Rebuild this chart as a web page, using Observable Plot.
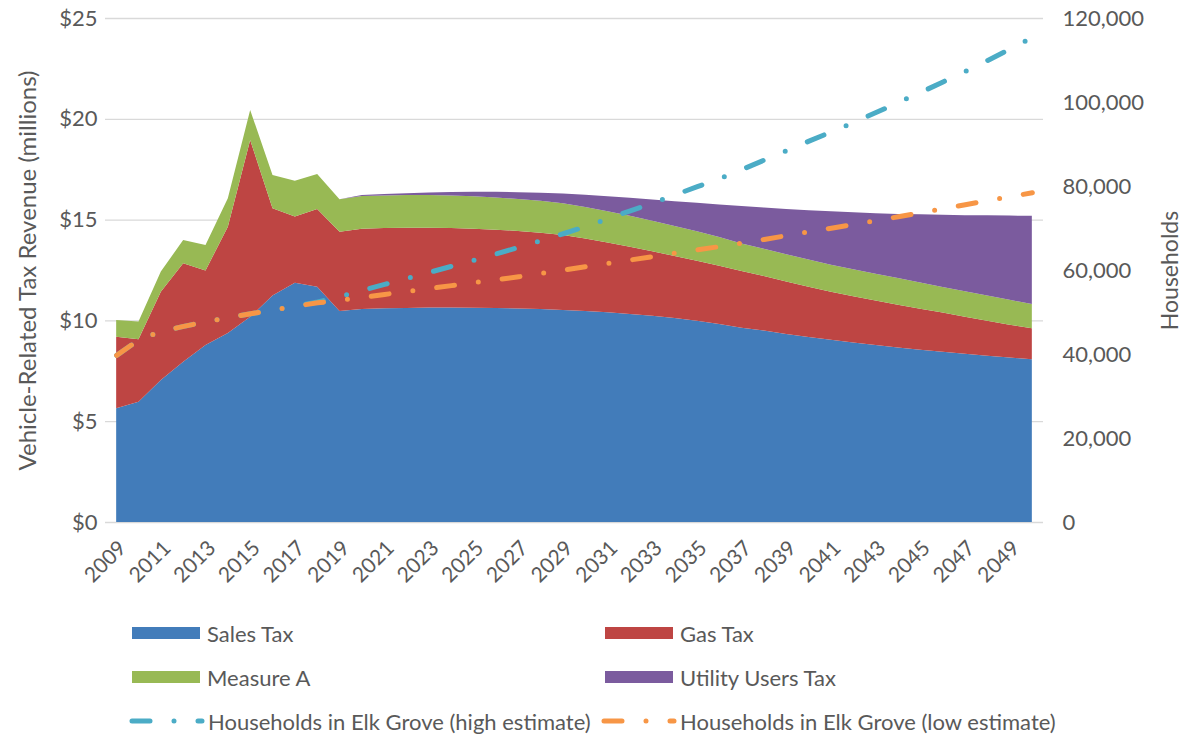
<!DOCTYPE html>
<html>
<head>
<meta charset="utf-8">
<script src="https://cdn.jsdelivr.net/npm/d3@7"></script>
<script src="https://cdn.jsdelivr.net/npm/@observablehq/plot@0.6"></script>
<style>
  html, body { margin: 0; padding: 0; background: #fff; }
  #wrap { position: relative; width: 1184px; height: 737px; font-family: Lato, "Open Sans", sans-serif; color: #595959; }
  #chart { position: absolute; left: 0; top: 0; }
  .leg { position: absolute; display: flex; align-items: center; font-size: 22px; color: #595959; white-space: nowrap; }
  .sw { width: 68px; height: 12px; margin-right: 7px; }
</style>
</head>
<body>
<div id="wrap">
  <div id="chart"></div>
  <div id="legend"></div>
</div>
<script>
// ---- Data ----
const years = [2009,2010,2011,2012,2013,2014,2015,2016,2017,2018,2019,2020,2021,2022,2023,2024,2025,2026,2027,2028,2029,2030,2031,2032,2033,2034,2035,2036,2037,2038,2039,2040,2041,2042,2043,2044,2045,2046,2047,2048,2049,2050];

const seriesNames = ["Sales Tax", "Gas Tax", "Measure A", "Utility Users Tax"];
const seriesColors = ["#427CBA", "#BE4543", "#98B954", "#7B5B9E"];

// $ millions
const salesTax = [5.64,5.97,7.04,7.95,8.78,9.37,10.18,11.23,11.87,11.67,10.47,10.57,10.60,10.62,10.64,10.64,10.63,10.62,10.59,10.56,10.52,10.47,10.40,10.32,10.23,10.12,9.98,9.82,9.64,9.50,9.32,9.18,9.04,8.90,8.78,8.66,8.55,8.45,8.35,8.25,8.16,8.07];
const gasTax = [3.55,3.09,4.38,4.88,3.69,5.28,8.77,4.33,3.28,3.86,3.93,3.98,3.98,3.98,3.96,3.94,3.91,3.88,3.85,3.79,3.72,3.59,3.46,3.33,3.20,3.08,2.98,2.89,2.81,2.70,2.61,2.49,2.38,2.30,2.21,2.12,2.03,1.94,1.83,1.73,1.63,1.54];
const measureA = [0.83,0.88,1.00,1.16,1.27,1.41,1.49,1.65,1.78,1.73,1.61,1.62,1.62,1.62,1.62,1.62,1.62,1.60,1.58,1.58,1.57,1.57,1.56,1.54,1.51,1.48,1.46,1.43,1.37,1.35,1.35,1.35,1.34,1.34,1.33,1.32,1.30,1.27,1.26,1.25,1.23,1.20];
const utilityUsersTax = [0,0,0,0,0,0,0,0,0,0,0,0.05,0.07,0.09,0.13,0.17,0.22,0.28,0.34,0.40,0.48,0.60,0.74,0.89,1.06,1.23,1.41,1.61,1.85,2.05,2.25,2.45,2.65,2.82,3.00,3.18,3.38,3.58,3.78,3.98,4.18,4.38];

// households
const householdsHigh = [39800,43500,45500,46700,47800,48800,49700,50600,51500,52500,53800,55250,56700,58100,59550,61000,62450,63950,65500,67100,68750,70450,72350,74200,76050,78000,79950,81900,84050,86300,88550,90800,93000,95250,97600,100000,102400,104900,107400,110000,112700,115500];
const householdsLow = [39800,43500,45500,46700,47800,48800,49700,50600,51500,52300,52900,53600,54300,55000,55700,56400,57100,57800,58500,59280,60080,60890,61700,62500,63300,64120,64900,65700,66500,67400,68300,69200,70080,70960,71840,72800,73750,74700,75660,76620,77560,78500];

const revenueTicks = [0, 5, 10, 15, 20, 25];
const householdTicks = [0, 20000, 40000, 60000, 80000, 100000, 120000];
const yearTicks = [2009,2011,2013,2015,2017,2019,2021,2023,2025,2027,2029,2031,2033,2035,2037,2039,2041,2043,2045,2047,2049];

const lineNames = ["Households in Elk Grove (high estimate)", "Households in Elk Grove (low estimate)"];
const lineColors = ["#4BACC6", "#F79646"];

// ---- Build tables ----
const seriesValues = [salesTax, gasTax, measureA, utilityUsersTax];
const rows = [];
seriesNames.forEach((name, si) => {
  years.forEach((yr, i) => rows.push({year: yr, series: name, value: seriesValues[si][i]}));
});
const hhMax = 120000, revMax = 25;
const toY = h => h * revMax / hhMax;
const high = years.map((yr, i) => ({year: yr, h: householdsHigh[i]}));
const low = years.map((yr, i) => ({year: yr, h: householdsLow[i]}));

const dash = "18,24,0,24";
const fmt = d3.format(",");

const chart = Plot.plot({
  width: 1184,
  height: 600,
  marginTop: 18,
  marginBottom: 78,
  marginLeft: 105,
  marginRight: 141,
  style: {fontFamily: "Lato, 'Open Sans', sans-serif", fontSize: "21px", color: "#595959", background: "white"},
  x: {domain: [2008.5, 2050.5]},
  y: {domain: [0, revMax]},
  color: {domain: seriesNames, range: seriesColors},
  marks: [
    Plot.gridY(revenueTicks, {stroke: "#D9D9D9", strokeOpacity: 1, strokeWidth: 1.3}),
    Plot.areaY(rows, {x: "year", y: "value", z: "series", fill: "series", order: seriesNames}),
    Plot.line(high, {x: "year", y: d => toY(d.h), stroke: lineColors[0], strokeWidth: 5, strokeDasharray: dash, strokeLinecap: "round", strokeLinejoin: "round"}),
    Plot.line(low, {x: "year", y: d => toY(d.h), stroke: lineColors[1], strokeWidth: 5, strokeDasharray: dash, strokeLinecap: "round", strokeLinejoin: "round"}),
    Plot.axisY(revenueTicks, {tickSize: 0, tickPadding: 8, tickFormat: d => "$" + d, label: null, fontSize: 22, fill: "#595959"}),
    Plot.axisY(householdTicks.map(toY), {anchor: "right", tickSize: 0, tickPadding: 19, textAnchor: "start", tickFormat: d => fmt(Math.round(d * hhMax / revMax)), label: null, fontSize: 22, fill: "#595959"}),
    Plot.axisX(yearTicks, {tickRotate: -45, tickSize: 0, tickPadding: 22, dx: 6, tickFormat: d => String(d), label: null, fontSize: 21, fill: "#595959"}),
    Plot.text(["Vehicle-Related Tax Revenue (millions)"], {frameAnchor: "left", textAnchor: "middle", lineAnchor: "middle", rotate: -90, dx: -77, fontSize: 24, fill: "#595959"}),
    Plot.text(["Households"], {frameAnchor: "right", textAnchor: "middle", lineAnchor: "middle", rotate: -90, dx: 127, fontSize: 23, fill: "#595959"})
  ]
});
document.getElementById("chart").appendChild(chart);

// ---- Legend ----
const legend = document.getElementById("legend");
const legItems = [
  {name: seriesNames[0], color: seriesColors[0], left: 132, top: 633, type: "box"},
  {name: seriesNames[1], color: seriesColors[1], left: 605, top: 633, type: "box"},
  {name: seriesNames[2], color: seriesColors[2], left: 132, top: 677, type: "box"},
  {name: seriesNames[3], color: seriesColors[3], left: 605, top: 677, type: "box"},
  {name: lineNames[0], color: lineColors[0], left: 128, top: 721, type: "line"},
  {name: lineNames[1], color: lineColors[1], left: 600, top: 721, type: "line"}
];
legItems.forEach(it => {
  const div = document.createElement("div");
  div.className = "leg";
  div.style.left = it.left + "px";
  div.style.top = (it.top - 15) + "px";
  div.style.height = "30px";
  if (it.type === "box") {
    const sw = document.createElement("div");
    sw.className = "sw";
    sw.style.background = it.color;
    div.appendChild(sw);
  } else {
    const ns = "http://www.w3.org/2000/svg";
    const svg = document.createElementNS(ns, "svg");
    svg.setAttribute("width", 78);
    svg.setAttribute("height", 12);
    svg.style.marginRight = "2px";
    const ln = document.createElementNS(ns, "line");
    ln.setAttribute("x1", 4); ln.setAttribute("x2", 74);
    ln.setAttribute("y1", 6); ln.setAttribute("y2", 6);
    ln.setAttribute("stroke", it.color);
    ln.setAttribute("stroke-width", 5);
    ln.setAttribute("stroke-linecap", "round");
    ln.setAttribute("stroke-dasharray", "18,24,0,24");
    svg.appendChild(ln);
    div.appendChild(svg);
  }
  const t = document.createElement("span");
  t.textContent = it.name;
  div.appendChild(t);
  legend.appendChild(div);
});
</script>
</body>
</html>
